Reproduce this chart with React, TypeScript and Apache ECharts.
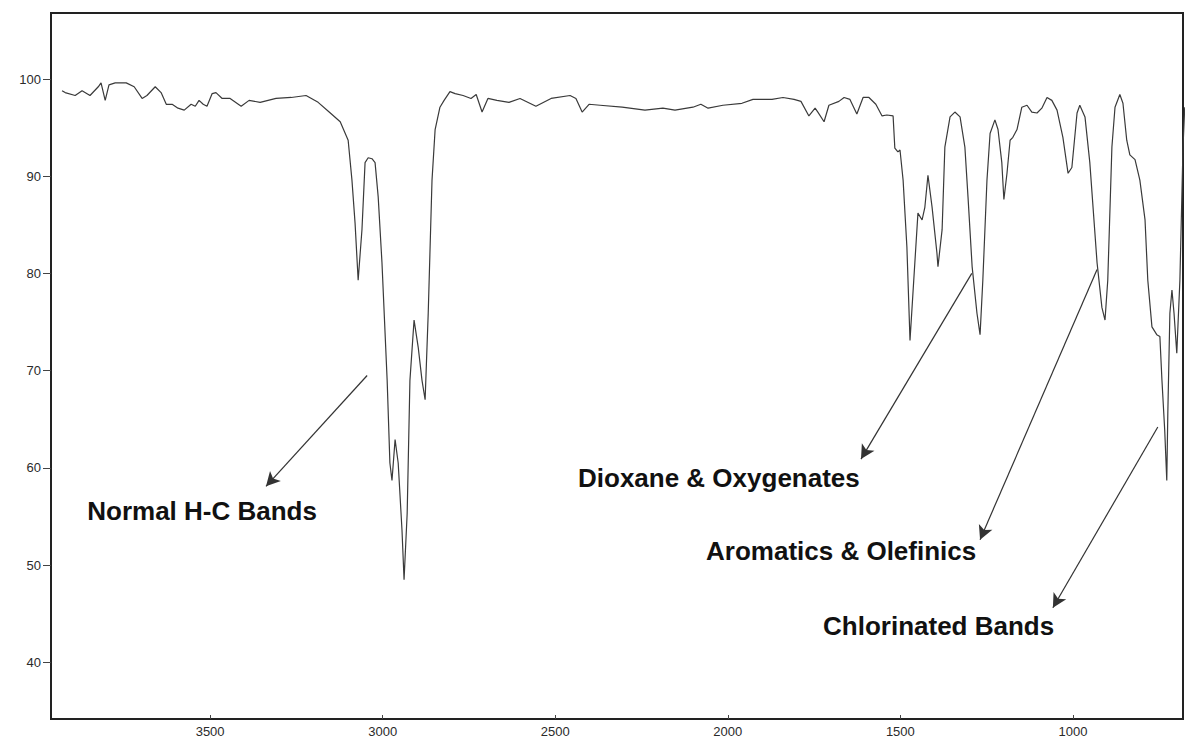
import React, { useEffect, useRef } from "react";
import * as echarts from "echarts";

// Wavenumber (cm-1) and % transmittance
const wavenumbers = [
  3929, 3920, 3891, 3871, 3848, 3824, 3816, 3804, 3793, 3775, 3743, 3720, 3697, 3683, 3659, 3642,
  3627, 3610, 3593, 3575, 3555, 3543, 3532, 3520, 3509, 3494, 3483, 3465, 3442, 3410, 3387, 3355,
  3309, 3265, 3222, 3187, 3155, 3123, 3100, 3089, 3080, 3071, 3060, 3051, 3042, 3031, 3022, 3013,
  3002, 2987, 2979, 2973, 2964, 2955, 2944, 2938, 2929, 2921, 2909, 2897, 2886, 2877, 2868, 2857,
  2848, 2834, 2822, 2805, 2790, 2767, 2744, 2729, 2712, 2695, 2669, 2634, 2602, 2556, 2512, 2457,
  2440, 2422, 2402, 2370, 2306, 2240, 2188, 2153, 2101, 2078, 2057, 2014, 1959, 1927, 1872, 1840,
  1808, 1788, 1765, 1747, 1739, 1721, 1707, 1678, 1663, 1646, 1626, 1608, 1591, 1571, 1553, 1539,
  1521, 1516, 1507, 1501, 1492, 1481, 1472, 1458, 1449, 1437, 1429, 1420, 1408, 1394, 1391, 1379,
  1371, 1356, 1342, 1327, 1313, 1304, 1292, 1278, 1269, 1261, 1249, 1240, 1226, 1217, 1206, 1200,
  1191, 1182, 1174, 1162, 1148, 1133, 1119, 1104, 1090, 1075, 1061, 1046, 1029, 1014, 1003, 988,
  980, 965, 951, 930, 916, 907, 899, 887, 878, 864, 855, 844, 835, 820, 806, 791,
  783, 771, 757, 748, 742, 734, 728, 725, 719, 713, 707, 699, 690, 681, 676,
];

const transmittance = [
  98.8, 98.6, 98.3, 98.8, 98.3, 99.2, 99.6, 97.8, 99.4, 99.6, 99.6, 99.2, 98.0, 98.3, 99.2, 98.6,
  97.4, 97.4, 97.0, 96.8, 97.4, 97.2, 97.8, 97.4, 97.2, 98.5, 98.6, 98.0, 98.0, 97.2, 97.8, 97.6,
  98.0, 98.1, 98.3, 97.6, 96.6, 95.6, 93.7, 89.6, 85.2, 79.3, 84.5, 91.4, 91.9, 91.8, 91.4, 87.9,
  81.1, 69.0, 60.5, 58.7, 62.9, 60.5, 53.6, 48.5, 55.3, 69.0, 75.2, 72.4, 69.0, 67.0, 75.9, 89.6,
  94.8, 97.1, 97.8, 98.7, 98.5, 98.3, 98.0, 98.4, 96.6, 98.0, 97.8, 97.6, 98.0, 97.2, 98.0, 98.3,
  98.0, 96.6, 97.4, 97.3, 97.1, 96.8, 97.0, 96.8, 97.1, 97.4, 97.0, 97.3, 97.5, 97.9, 97.9, 98.1,
  97.9, 97.7, 96.2, 97.0, 96.6, 95.6, 97.3, 97.7, 98.1, 97.9, 96.4, 98.1, 98.1, 97.4, 96.2, 96.3,
  96.2, 92.9, 92.5, 92.7, 89.6, 82.7, 73.1, 81.1, 86.2, 85.5, 86.8, 90.1, 86.8, 82.1, 80.7, 84.5,
  93.0, 96.1, 96.6, 96.1, 93.0, 87.9, 80.7, 75.9, 73.7, 79.3, 89.6, 94.4, 95.8, 94.8, 91.4, 87.6,
  90.3, 93.7, 94.0, 94.8, 97.1, 97.3, 96.6, 96.5, 97.0, 98.1, 97.8, 96.8, 94.0, 90.3, 90.9, 96.5,
  97.3, 96.1, 91.4, 81.1, 76.5, 75.2, 79.3, 93.0, 97.1, 98.4, 97.5, 93.7, 92.2, 91.7, 89.6, 85.5,
  79.3, 74.5, 73.7, 73.5, 69.0, 63.9, 58.7, 65.6, 75.9, 78.3, 75.9, 71.8, 79.3, 93.0, 97.1,
];

const xTicks = [1000, 1500, 2000, 2500, 3000, 3500];
const yTicks = [40, 50, 60, 70, 80, 90, 100];

// Annotation texts and their anchor (wavenumber, %T)
const noteTexts = ["Normal H-C Bands", "Dioxane & Oxygenates", "Aromatics & Olefinics", "Chlorinated Bands"];
const noteAnchors = [
  [3856, 55.6],
  [2434, 59.0],
  [2063, 51.4],
  [1724, 43.7],
];
// Arrow start and tip (wavenumber, %T)
const arrowStarts = [
  [3045, 69.5],
  [1293, 80.0],
  [930, 80.4],
  [754, 64.2],
];
const arrowTips = [
  [3338, 58.1],
  [1614, 60.9],
  [1269, 52.6],
  [1058, 45.6],
];

export default function App() {
  const ref = useRef<HTMLDivElement>(null);

  useEffect(() => {
    if (!ref.current) return;
    const chart = echarts.init(ref.current, undefined, { renderer: "svg" });
    const data = wavenumbers.map((w, i) => [w, transmittance[i]]);
    const font = "'Liberation Sans', Arial, Helvetica, sans-serif";

    chart.setOption({
      animation: false,
      backgroundColor: "#ffffff",
      grid: {
        left: 51,
        right: 2,
        top: 13,
        bottom: 20,
        show: true,
        borderColor: "#222",
        borderWidth: 2,
        backgroundColor: "transparent",
      },
      xAxis: {
        type: "value",
        inverse: true,
        min: 681,
        max: 3961,
        axisLine: { show: false },
        splitLine: { show: false },
        axisTick: {
          show: true,
          inside: true,
          length: 4,
          customValues: xTicks,
          lineStyle: { color: "#444", width: 1 },
        },
        axisLabel: {
          customValues: xTicks,
          formatter: (v: number) => String(v),
          fontFamily: font,
          fontSize: 13,
          color: "#2a2a2a",
          margin: 6,
        },
      },
      yAxis: {
        type: "value",
        min: 34.16,
        max: 106.79,
        axisLine: { show: false },
        splitLine: { show: false },
        axisTick: {
          show: true,
          inside: false,
          length: 8,
          customValues: yTicks,
          lineStyle: { color: "#444", width: 1 },
        },
        axisLabel: {
          customValues: yTicks,
          formatter: (v: number) => String(v),
          fontFamily: font,
          fontSize: 13,
          color: "#2a2a2a",
          margin: 10,
        },
      },
      series: [
        {
          type: "line",
          data,
          showSymbol: false,
          smooth: false,
          lineStyle: { color: "#3a3a3a", width: 1.2 },
          silent: true,
          markLine: {
            silent: true,
            symbol: ["none", "arrow"],
            symbolSize: [11, 14],
            label: { show: false },
            lineStyle: { color: "#333", width: 1.2, type: "solid" },
            emphasis: { disabled: true },
            data: arrowStarts.map((s, i) => [{ coord: s }, { coord: arrowTips[i] }]),
          },
          markPoint: {
            silent: true,
            symbol: "circle",
            symbolSize: 0,
            data: noteTexts.map((t, i) => ({
              coord: noteAnchors[i],
              value: t,
              label: {
                show: true,
                formatter: t,
                position: "right",
                distance: 0,
                fontFamily: font,
                fontSize: 26,
                fontWeight: "bold",
                color: "#111",
              },
            })),
          },
        },
      ],
    });

    return () => chart.dispose();
  }, []);

  return (
    <div
      ref={ref}
      style={{ position: "fixed", left: 0, top: 0, width: 1185, height: 739, background: "#fff" }}
    />
  );
}
